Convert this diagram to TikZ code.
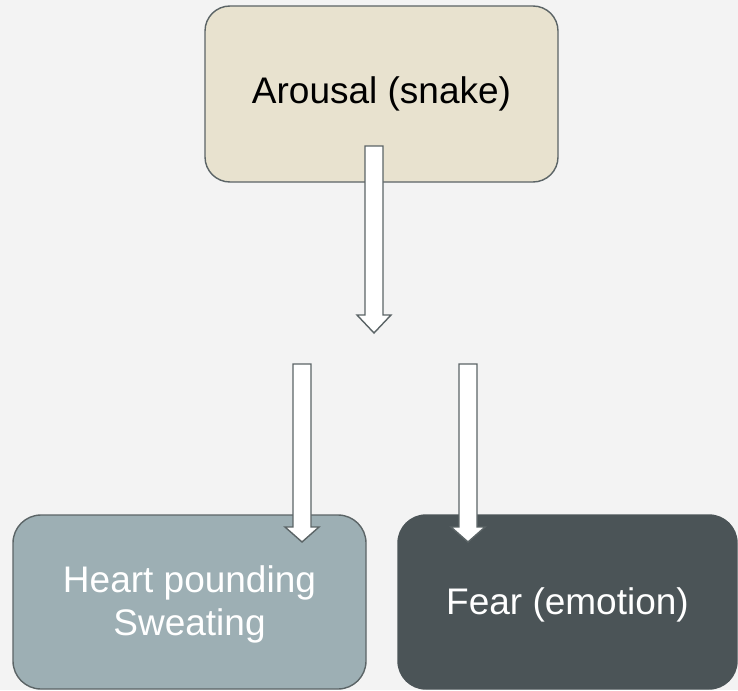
\documentclass[tikz,border=0pt]{standalone}
\usepackage{fontspec}
\setmainfont{Liberation Sans}
\definecolor{bg}{HTML}{F3F3F3}
\definecolor{edge}{HTML}{5B6466}
\definecolor{sand}{HTML}{E8E2CF}
\definecolor{slate}{HTML}{9DAFB4}
\definecolor{darkslate}{HTML}{4B5457}
\tikzset{
  box/.style={draw=edge, line width=1.4pt, rounded corners=#1, inner sep=0pt, align=center,
    font=\fontsize{37}{43}\selectfont},
  blockarrow/.style={draw=edge, fill=white, line width=1.4pt, line join=miter},
}
\newcommand{\blockarr}[5]{% cx, top, base, tip, name
  \draw[blockarrow] (#1-9,-#2) -- (#1+9,-#2) -- (#1+9,-#3) -- (#1+17,-#3) -- (#1,-#4) -- (#1-17,-#3) -- (#1-9,-#3) -- cycle;
  \coordinate (#5) at (#1,-#4);
}
\begin{document}
\begin{tikzpicture}[x=1pt,y=1pt]
\useasboundingbox (0,0) rectangle (738,-690);
\fill[bg] (0,0) rectangle (738,-690);
% top box
\draw[box=25pt, fill=sand] (205,-6) rectangle (558,-182);
\node[font=\fontsize{37}{43}\selectfont] (arousal) at (381.5,-94) {Arousal (snake)};
% bottom boxes
\draw[box=28pt, fill=slate] (13,-515) rectangle (366,-689);
\node[font=\fontsize{37}{43}\selectfont, text=white, align=center] (heart) at (189.5,-604) {Heart pounding\\Sweating};
\draw[box=28pt, fill=darkslate, draw=darkslate] (398,-515) rectangle (737,-689);
\node[font=\fontsize{37}{43}\selectfont, text=white] (fear) at (567.5,-605) {Fear (emotion)};
% arrows
\blockarr{374}{146}{315}{333}{a1}
\blockarr{302}{364}{527}{542}{a2}
\blockarr{468}{364}{527}{542}{a3}
\end{tikzpicture}
\end{document}
